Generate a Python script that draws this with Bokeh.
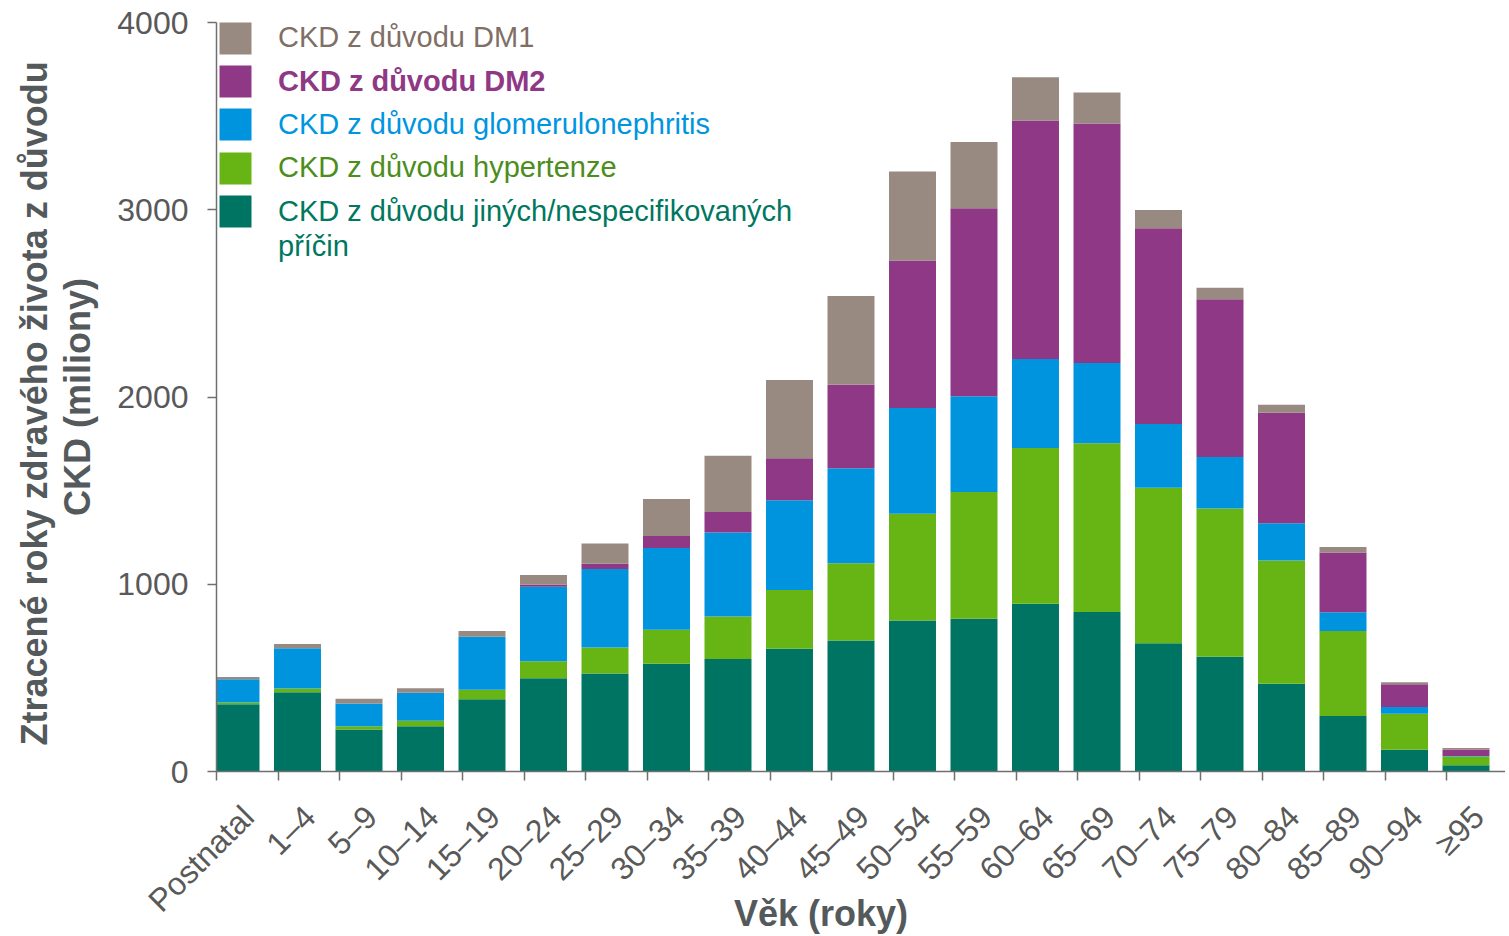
import math
from bokeh.plotting import figure
from bokeh.models import (ColumnDataSource, FixedTicker, Legend, LegendItem, Title,
                          LinearAxis)
from bokeh.embed import file_html
from bokeh.resources import INLINE

# ---- data (millions of DALYs lost due to CKD) ----
categories = ["Postnatal", "1–4", "5–9", "10–14", "15–19", "20–24", "25–29", "30–34",
              "35–39", "40–44", "45–49", "50–54", "55–59", "60–64", "65–69", "70–74",
              "75–79", "80–84", "85–89", "90–94", "≥95"]
jine = [359, 423, 224, 242, 386, 498, 523, 576, 601, 656, 699, 807, 816, 896, 852, 685, 613, 469, 297, 116, 34]
hyper = [9, 20, 18, 29, 50, 91, 139, 181, 227, 313, 413, 569, 676, 832, 901, 830, 791, 658, 453, 192, 46]
glom = [124, 215, 121, 149, 283, 397, 420, 437, 448, 480, 507, 565, 512, 475, 428, 341, 275, 199, 101, 37, 3]
dm2 = [0, 0, 0, 0, 0, 11, 28, 64, 110, 224, 446, 788, 1004, 1273, 1280, 1045, 843, 590, 318, 121, 34]
dm1 = [13, 23, 25, 25, 32, 53, 108, 197, 300, 418, 475, 475, 354, 231, 165, 98, 62, 43, 30, 11, 9]

series_keys = ["jine", "hyper", "glom", "dm2", "dm1"]
series_labels = ["CKD z důvodu jiných/nespecifikovaných", "CKD z důvodu hypertenze",
                 "CKD z důvodu glomerulonephritis", "CKD z důvodu DM2", "CKD z důvodu DM1"]
bar_colors = ["#007462", "#67b415", "#0094de", "#8f3885", "#988a80"]
text_colors = ["#00775f", "#4c8d1c", "#0095df", "#8f3885", "#7f6f66"]
y_ticks = [0, 1000, 2000, 3000, 4000]
x_title = "Věk (roky)"
y_title_lines = ["Ztracené roky zdravého života z důvodu", "CKD (miliony)"]

FONT = "Liberation Sans"
AXIS_COLOR = "#6f6f6f"
LABEL_COLOR = "#595959"
TITLE_COLOR = "#54595b"

W, H = 1505, 936
LEFT, TOP, BOTTOM = 216, 22, 165
frame_w = W - LEFT
frame_h = H - TOP - BOTTOM
unit = 61.5  # px per category

n = len(categories)
label_pos = list(range(n))
bar_offset = -0.2
x_bar = [k + bar_offset for k in label_pos]
boundaries = [k + bar_offset - 0.317 for k in range(n + 1)]
x0 = boundaries[0]

src = ColumnDataSource(dict(x=x_bar, jine=jine, hyper=hyper, glom=glom, dm2=dm2, dm1=dm1))

p = figure(width=W, height=H, output_backend="svg", toolbar_location=None,
           x_range=(x0, x0 + frame_w / unit), y_range=(0, 4000),
           min_border_top=TOP, min_border_right=0, min_border_bottom=BOTTOM,
           min_border_left=LEFT)
p.outline_line_color = None
p.xgrid.visible = False
p.ygrid.visible = False

renderers = p.vbar_stack(series_keys, x="x", width=0.764, color=bar_colors,
                         source=src, line_color=None)

# x axis
xa = p.xaxis[0]
xa.ticker = FixedTicker(ticks=label_pos, minor_ticks=boundaries)
xa.major_label_overrides = {k: c for k, c in zip(label_pos, categories)}
xa.major_label_orientation = math.pi / 4
xa.major_tick_line_color = None
xa.major_tick_out = 9
xa.major_tick_in = 0
xa.minor_tick_out = 9
xa.minor_tick_in = 0
xa.minor_tick_line_color = AXIS_COLOR
xa.minor_tick_line_width = 1.5
xa.axis_line_color = AXIS_COLOR
xa.axis_line_width = 1.5
xa.major_label_text_font = FONT
xa.major_label_text_font_size = "32px"
xa.major_label_text_color = LABEL_COLOR
xa.major_label_standoff = 31

# x axis title: carried by a tick-less helper axis, pulled up with a negative standoff;
# trailing no-break spaces shift the centred title to the left, as in the original
xt = LinearAxis(ticker=FixedTicker(ticks=[], minor_ticks=[]),
                axis_line_color=None, major_tick_line_color=None, minor_tick_line_color=None,
                major_tick_out=0, major_tick_in=0, minor_tick_out=0, minor_tick_in=0,
                major_label_text_font_size="0px",
                axis_label=x_title + "\u00a0" * 8, axis_label_standoff=-42,
                axis_label_text_font=FONT, axis_label_text_font_size="36px",
                axis_label_text_font_style="bold", axis_label_text_color=TITLE_COLOR)
p.add_layout(xt, "below")

# y axis
ya = p.yaxis[0]
ya.ticker = FixedTicker(ticks=y_ticks, minor_ticks=[])
ya.major_tick_out = 9
ya.major_tick_in = 0
ya.major_tick_line_color = AXIS_COLOR
ya.major_tick_line_width = 1.5
ya.axis_line_color = AXIS_COLOR
ya.axis_line_width = 1.5
ya.minor_tick_line_color = None
ya.major_label_text_font = FONT
ya.major_label_text_font_size = "32px"
ya.major_label_text_color = LABEL_COLOR
ya.major_label_standoff = 19
ya.axis_label = y_title_lines[1]
ya.axis_label_standoff = 16
ya.axis_label_text_font = FONT
ya.axis_label_text_font_size = "36px"
ya.axis_label_text_font_style = "bold"
ya.axis_label_text_color = TITLE_COLOR

t1 = Title(text=y_title_lines[0], align="left", offset=26, text_font=FONT,
           text_font_size="36px", text_font_style="bold", text_color=TITLE_COLOR, standoff=0)
p.add_layout(t1, "left")

# legends (one per item, to allow individual text colours)
GL = 40  # legend glyph box (visible square is 80 % of it)
frame_bottom = TOP + frame_h
glyph_tops = {"dm1": 21.7, "dm2": 65, "glom": 108.3, "hyp": 151.7, "jine": 195}
order = [(4, "dm1"), (3, "dm2"), (2, "glom"), (1, "hyp"), (0, "jine")]


def make_legend(label, rends, top, color, style="normal"):
    return Legend(items=[LegendItem(label=label, renderers=rends)],
                  location=(215 - LEFT, frame_bottom - top - GL),
                  glyph_width=GL, glyph_height=GL, label_standoff=23, label_height=GL,
                  padding=0, margin=0, spacing=0, border_line_color=None,
                  background_fill_alpha=0, label_text_font=FONT, label_text_font_size="29px",
                  label_text_color=color, label_text_font_style=style)


for idx, key in order:
    p.add_layout(make_legend(series_labels[idx], [renderers[idx]], glyph_tops[key] - 4,
                             text_colors[idx], "bold" if key == "dm2" else "normal"))
p.add_layout(make_legend("příčin", [], 246.5 - GL / 2, text_colors[0]))

open("out.html", "w").write(file_html(p, INLINE))
